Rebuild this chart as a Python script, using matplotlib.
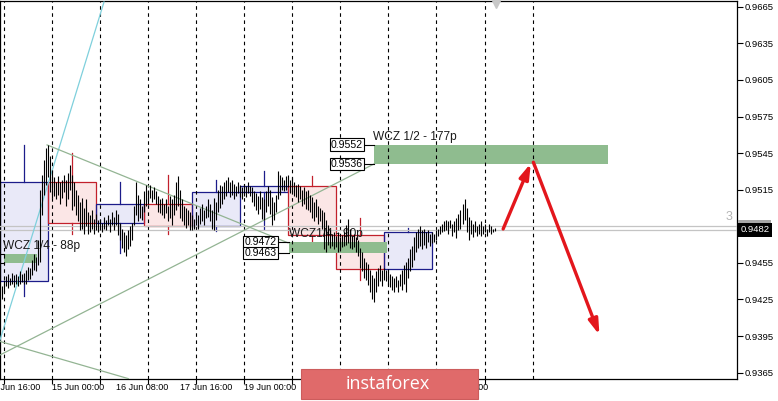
import matplotlib
matplotlib.use("Agg")
import matplotlib.pyplot as plt
from matplotlib.patches import Rectangle
from matplotlib import font_manager
import matplotlib.transforms as mtransforms
import numpy as np

# ---------------- data ----------------
# hourly bars, first bar at hour -1 (hour 0 = 14 Jun 00:00)
bar_start_hour = -1
bar_high = [
    .9436, .9441, .9444, .9446, .9443, .9447, .9445, .9446, .9444, .9448, .9446, .9447,
    .9449, .9452, .9451, .9457, .9462, .9460, .9474, .9515, .9527, .9539, .9549, .9552,
    .9543, .9531, .9525, .9521, .9526, .9521, .9523, .9527, .9523, .9529, .9535, .9527,
    .9521, .9515, .9511, .9505, .9508, .9500, .9507, .9497, .9494, .9498, .9491, .9495,
    .9490, .9491, .9488, .9493, .9490, .9494, .9491, .9497, .9493, .9498, .9495, .9488,
    .9483, .9480, .9478, .9482, .9485, .9488, .9502, .9521, .9511, .9507, .9502, .9514,
    .9519, .9515, .9519, .9515, .9517, .9514, .9510, .9507, .9508, .9503, .9507, .9502,
    .9510, .9507, .9511, .9521, .9526, .9515, .9507, .9502, .9500, .9498, .9497, .9494,
    .9491, .9497, .9494, .9500, .9503, .9498, .9502, .9507, .9503, .9498, .9508, .9505,
    .9515, .9519, .9518, .9521, .9523, .9525, .9521, .9523, .9520, .9518, .9521, .9519,
    .9517, .9520, .9518, .9521, .9518, .9517, .9514, .9512, .9510, .9514, .9509, .9507,
    .9514, .9518, .9515, .9509, .9505, .9511, .9530, .9527, .9525, .9523, .9526, .9527,
    .9523, .9525, .9521, .9519, .9520, .9518, .9515, .9517, .9514, .9515, .9511, .9509,
    .9505, .9507, .9502, .9500, .9498, .9497, .9490, .9486, .9482, .9479, .9480, .9477,
    .9480, .9476, .9478, .9480, .9486, .9491, .9483, .9477, .9479, .9476, .9474, .9467,
    .9464, .9459, .9456, .9454, .9449, .9445, .9443, .9448, .9451, .9453, .9449, .9451,
    .9449, .9448, .9446, .9444, .9443, .9444, .9441, .9446, .9449, .9453, .9456, .9459,
    .9466, .9469, .9476, .9480, .9483, .9485, .9482, .9483, .9480, .9482, .9479, .9480,
    .9479, .9482, .9483, .9485, .9487, .9489, .9490, .9489, .9490, .9487, .9489, .9492,
    .9495, .9498, .9503, .9507, .9500, .9493, .9490, .9487, .9489, .9485, .9487, .9489,
    .9485, .9487, .9483, .9487, .9485, .9483, .9484,
]
bar_low = [
    .9425, .9431, .9436, .9434, .9437, .9438, .9435, .9438, .9436, .9438, .9439, .9438,
    .9438, .9441, .9442, .9445, .9449, .9448, .9453, .9456, .9494, .9511, .9519, .9525,
    .9513, .9508, .9510, .9507, .9511, .9503, .9508, .9513, .9502, .9507, .9515, .9498,
    .9502, .9494, .9489, .9482, .9483, .9479, .9485, .9479, .9480, .9483, .9479, .9482,
    .9480, .9482, .9480, .9483, .9482, .9486, .9480, .9486, .9482, .9486, .9478, .9474,
    .9467, .9464, .9461, .9466, .9469, .9474, .9486, .9494, .9489, .9492, .9490, .9497,
    .9502, .9503, .9508, .9505, .9507, .9503, .9497, .9496, .9494, .9492, .9496, .9489,
    .9492, .9486, .9494, .9498, .9502, .9492, .9489, .9486, .9484, .9486, .9482, .9482,
    .9483, .9486, .9483, .9487, .9489, .9486, .9492, .9493, .9489, .9483, .9482, .9490,
    .9497, .9500, .9503, .9507, .9510, .9513, .9509, .9511, .9507, .9510, .9512, .9509,
    .9507, .9510, .9509, .9512, .9510, .9505, .9502, .9498, .9495, .9499, .9491, .9490,
    .9497, .9502, .9495, .9486, .9490, .9497, .9507, .9511, .9515, .9514, .9515, .9517,
    .9512, .9513, .9510, .9509, .9505, .9507, .9502, .9503, .9499, .9498, .9497, .9492,
    .9489, .9493, .9487, .9489, .9483, .9466, .9464, .9470, .9467, .9469, .9466, .9468,
    .9464, .9466, .9468, .9469, .9470, .9471, .9467, .9466, .9468, .9464, .9461, .9451,
    .9448, .9443, .9441, .9437, .9431, .9425, .9423, .9431, .9436, .9440, .9436, .9441,
    .9440, .9437, .9435, .9433, .9431, .9435, .9431, .9436, .9433, .9438, .9431, .9443,
    .9448, .9452, .9457, .9464, .9467, .9469, .9466, .9470, .9467, .9472, .9469, .9471,
    .9472, .9474, .9477, .9479, .9480, .9481, .9482, .9479, .9484, .9477, .9480, .9475,
    .9482, .9483, .9487, .9490, .9480, .9474, .9479, .9476, .9480, .9477, .9479, .9477,
    .9479, .9480, .9477, .9480, .9479, .9480, .9481,
]

# daily boxes (higher timeframe candles)
day_start = [-2, 22, 46, 70, 94, 118, 142, 166, 190]
day_open = [.9440, .9521, .9488, .9503, .9485, .9513, .9518, .9478, .9450]
day_high = [.9552, .9545, .9521, .9527, .9523, .9530, .9526, .9492, .9484]
day_low = [.9428, .9479, .9463, .9479, .9481, .9483, .9465, .9441, .9450]
day_close = [.9521, .9488, .9503, .9485, .9513, .9518, .9478, .9450, .9480]

# zones: (x0, x1, top, bottom)
zone_x0 = [184.8, 142.2, 0.0]
zone_x1 = [301.6, 191.5, 16.6]
zone_top = [.9552, .9472, .9462]
zone_bot = [.9536, .9463, .9455]
zone_text = ["WCZ 1/2 - 177p", "WCZ1/4 - 90p", "WCZ 1/4 - 88p"]
zone_text_x = [184.2, 142.4, -0.7]
zone_text_y = [.95535, .94735, .94640]

# price level labels
level_values = [.9552, .9536, .9472, .9463]
level_label_x = [180.3, 180.3, 136.9, 136.9]
level_zone_x = [184.8, 184.8, 142.2, 142.2]

separator_hours = [0, 24, 48, 72, 96, 120, 144, 168, 192, 216, 240, 264]
date_hours = [-8, 24, 56, 88, 120, 216]
date_labels = ["13 Jun 16:00", "15 Jun 00:00", "16 Jun 08:00", "17 Jun 16:00",
               "19 Jun 00:00", "23 Jun 00:00"]
price_ticks = [0.9665, 0.9635, 0.9605, 0.9575, 0.9545, 0.9515, 0.9485,
               0.9455, 0.9425, 0.9395, 0.9365]
bid_price = 0.9482
ask_price = 0.9485

# trend lines (x0, y0, x1, y1)
cyan_line = (-2.0, 0.93918, 49.95, 0.96689)
green_lines = [(21.5, 0.95517, 141.9, 0.94714),
               (-2.0, 0.93795, 184.8, 0.95361),
               (-2.0, 0.93906, 62.1, 0.93601)]
# forecast arrows (start x, start y, end x, end y)
arrows = [(249.3, 0.94828, 263.1, 0.95366),
          (264.4, 0.95375, 297.4, 0.93959)]

# ---------------- figure ----------------
names = {f.name for f in font_manager.fontManager.ttflist}
base_font = "Liberation Sans" if "Liberation Sans" in names else "DejaVu Sans"
plt.rcParams["font.family"] = [base_font, "DejaVu Sans"]

W, H = 778, 401
fig = plt.figure(figsize=(W / 100, H / 100), dpi=100)
fig.patch.set_facecolor("white")
ax = fig.add_axes([0, 22 / H, 737 / W, 378 / H])
ax.set_xlim(-2.0, 366.1)
ax.set_ylim(0.93598, 0.96697)
for s in ax.spines.values():
    s.set_color("black")
    s.set_linewidth(0.9)

# daily boxes
navy = "#1c1c8a"
crim = "#c2202c"
for x0, o, hi, lo, c in zip(day_start, day_open, day_high, day_low, day_close):
    bull = c >= o
    ec = navy if bull else crim
    fc = "#e9e9f8" if bull else "#fbe6e6"
    ax.add_patch(Rectangle((x0, min(o, c)), 24, abs(c - o), facecolor=fc,
                           edgecolor="none", zorder=1))
    ax.add_patch(Rectangle((x0, min(o, c)), 24, abs(c - o), facecolor="none",
                           edgecolor=ec, lw=0.9, zorder=2))
    xm = x0 + 12
    if hi > max(o, c):
        ax.plot([xm, xm], [max(o, c), hi], color=ec, lw=0.9, zorder=2)
    if lo < min(o, c):
        ax.plot([xm, xm], [lo, min(o, c)], color=ec, lw=0.9, zorder=2)

# zones
for x0, x1, t, b in zip(zone_x0, zone_x1, zone_top, zone_bot):
    ax.add_patch(Rectangle((x0, b), x1 - x0, t - b, facecolor="#8fbc8f",
                           edgecolor="none", zorder=2.5))
# connectors of the off-screen labels of the left zone
ax.plot([-2.0, 0.0], [zone_top[2], zone_top[2]], color="black", lw=0.8, zorder=6)
ax.plot([-2.0, 0.0], [zone_bot[2], zone_bot[2]], color="black", lw=0.8, zorder=6)
for txt, tx, ty in zip(zone_text, zone_text_x, zone_text_y):
    ax.text(tx, ty, txt, fontsize=8.6, color="#1a1a1a", ha="left", va="bottom",
            zorder=4)

# period separators
for h in separator_hours:
    ax.axvline(h, color="black", lw=0.8, ls=(0, (3.2, 3.2)), zorder=3)

# bid / ask lines
ax.axhline(ask_price, color="#c4c4c4", lw=0.9, zorder=3)
ax.axhline(bid_price, color="#c4c4c4", lw=0.9, zorder=3)

# trend lines
ax.plot([cyan_line[0], cyan_line[2]], [cyan_line[1], cyan_line[3]],
        color="#7fd0dc", lw=0.9, zorder=3.5)
for x0, y0, x1, y1 in green_lines:
    ax.plot([x0, x1], [y0, y1], color="#93b493", lw=0.9, zorder=3.5)

# bars
hours = np.arange(len(bar_high)) + bar_start_hour
ax.vlines(hours, bar_low, bar_high, color="black", lw=0.8, zorder=5)

# level labels
for v, lx, zx in zip(level_values, level_label_x, level_zone_x):
    ax.plot([lx, zx], [v, v], color="black", lw=0.8, zorder=6)
    ax.text(lx - 0.9, v, f"{v:.4f}", fontsize=7.6, ha="right", va="center",
            color="black", zorder=6,
            bbox=dict(boxstyle="square,pad=0.12", fc="white", ec="black", lw=0.8))

# arrows
for x0, y0, x1, y1 in arrows:
    ax.annotate("", xy=(x1, y1), xytext=(x0, y0), zorder=7,
                arrowprops=dict(arrowstyle="-|>,head_length=0.9,head_width=0.28",
                                color="#e3161c", lw=2.4, shrinkA=0, shrinkB=0))

# misc marks
ax.text(362.1, 0.9493, "3", fontsize=9, color="#b4b4b4", ha="center", va="center")
ax.plot([245.8], [0.96675], marker="v", color="#c8c8c8", ms=6, clip_on=False, zorder=6)

# axes ticks (the 0.9485 tick label is covered by the ask/bid tags)
ax.yaxis.tick_right()
ax.set_yticks(price_ticks)
ax.set_yticklabels(["" if abs(p - ask_price) < 1e-6 else f"{p:.4f}"
                    for p in price_ticks])
ax.tick_params(axis="y", direction="out", length=4, width=0.8, labelsize=6.8,
               pad=1.5, colors="black")
ax.set_xticks(separator_hours[:-1])
ax.set_xticklabels([])
ax.tick_params(axis="x", direction="out", length=3.5, width=0.8)

trans = mtransforms.blended_transform_factory(ax.transData, ax.transAxes)
for h, lab in zip(date_hours, date_labels):
    ax.text(h, -0.011, lab, transform=trans, ha="left", va="top",
            fontsize=6.5, clip_on=False)

# price tags on the right axis
tr_r = mtransforms.blended_transform_factory(ax.transAxes, ax.transData)
ax.text(1.0045, ask_price, f"{ask_price:.4f}", transform=tr_r, ha="left",
        va="center", fontsize=6.8, color="white", clip_on=False, zorder=8,
        bbox=dict(boxstyle="square,pad=0.22", fc="#a8a8a8", ec="none"))
ax.text(1.0045, bid_price, f"{bid_price:.4f}", transform=tr_r, ha="left",
        va="center", fontsize=6.8, color="white", clip_on=False, zorder=9,
        bbox=dict(boxstyle="square,pad=0.22", fc="black", ec="none"))

# watermark banner
fig.patches.append(Rectangle((301 / W, 2 / H), 177 / W, 30 / H,
                             transform=fig.transFigure, facecolor="#e06a6a",
                             edgecolor="#cc5c5c", lw=0.8, zorder=10))
fig.text(388 / W, 17 / H, "instaforex", color="white", fontsize=13,
         family=["Open Sans", "DejaVu Sans"], ha="center", va="center", zorder=11)

fig.savefig("out.png", dpi=100)
